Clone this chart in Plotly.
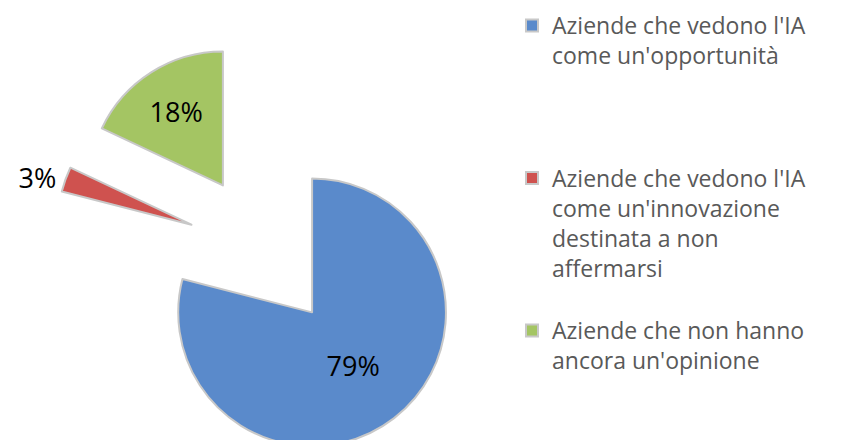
import plotly.graph_objects as go

# Survey answers, share of companies (%)
labels = [
    "Aziende che vedono l'IA<br>come un'opportunità",
    "Aziende che vedono l'IA<br>come un'innovazione<br>destinata a non<br>affermarsi",
    "Aziende che non hanno<br>ancora un'opinione",
]
values = [79, 3, 18]
colors = ["#5A8ACB", "#CF524F", "#A4C563"]
text_pos = ["inside", "outside", "inside"]

# blank lines so that every legend entry takes the same vertical room
legend_pad = ["<br>\u00a0<br>\u00a0<br>\u00a0", "<br>\u00a0", ""]
legend_labels = [l + p for l, p in zip(labels, legend_pad)]

W, H = 843, 500
FONT = "'Open Sans', Lato, sans-serif"

fig = go.Figure(
    go.Pie(
        labels=legend_labels,
        values=values,
        sort=False,
        direction="clockwise",
        rotation=0,
        pull=[0.58, 0.58, 0.58],
        marker=dict(colors=colors, line=dict(color="#C8C8C8", width=2)),
        texttemplate="%{value}%",
        textposition=text_pos,
        insidetextorientation="horizontal",
        textfont=dict(family=FONT, size=27, color="#000000"),
        domain=dict(x=[53 / W, 476 / W], y=[1 - 462.7 / H, 1 - 39.3 / H]),
        hoverinfo="label+percent",
    )
)

fig.update_layout(
    width=W,
    height=H,
    margin=dict(l=0, r=0, t=0, b=0, autoexpand=False),
    paper_bgcolor="white",
    plot_bgcolor="white",
    showlegend=True,
    legend=dict(
        x=512 / W,
        xanchor="left",
        y=1 - 4 / H,
        yanchor="top",
        valign="top",
        font=dict(family=FONT, size=23, color="#595959"),
        bgcolor="rgba(0,0,0,0)",
        tracegroupgap=0,
    ),
)

fig.write_html(
    "out.html",
    post_script="document.documentElement.style.overflow='hidden';document.body.style.overflow='hidden';",
)
